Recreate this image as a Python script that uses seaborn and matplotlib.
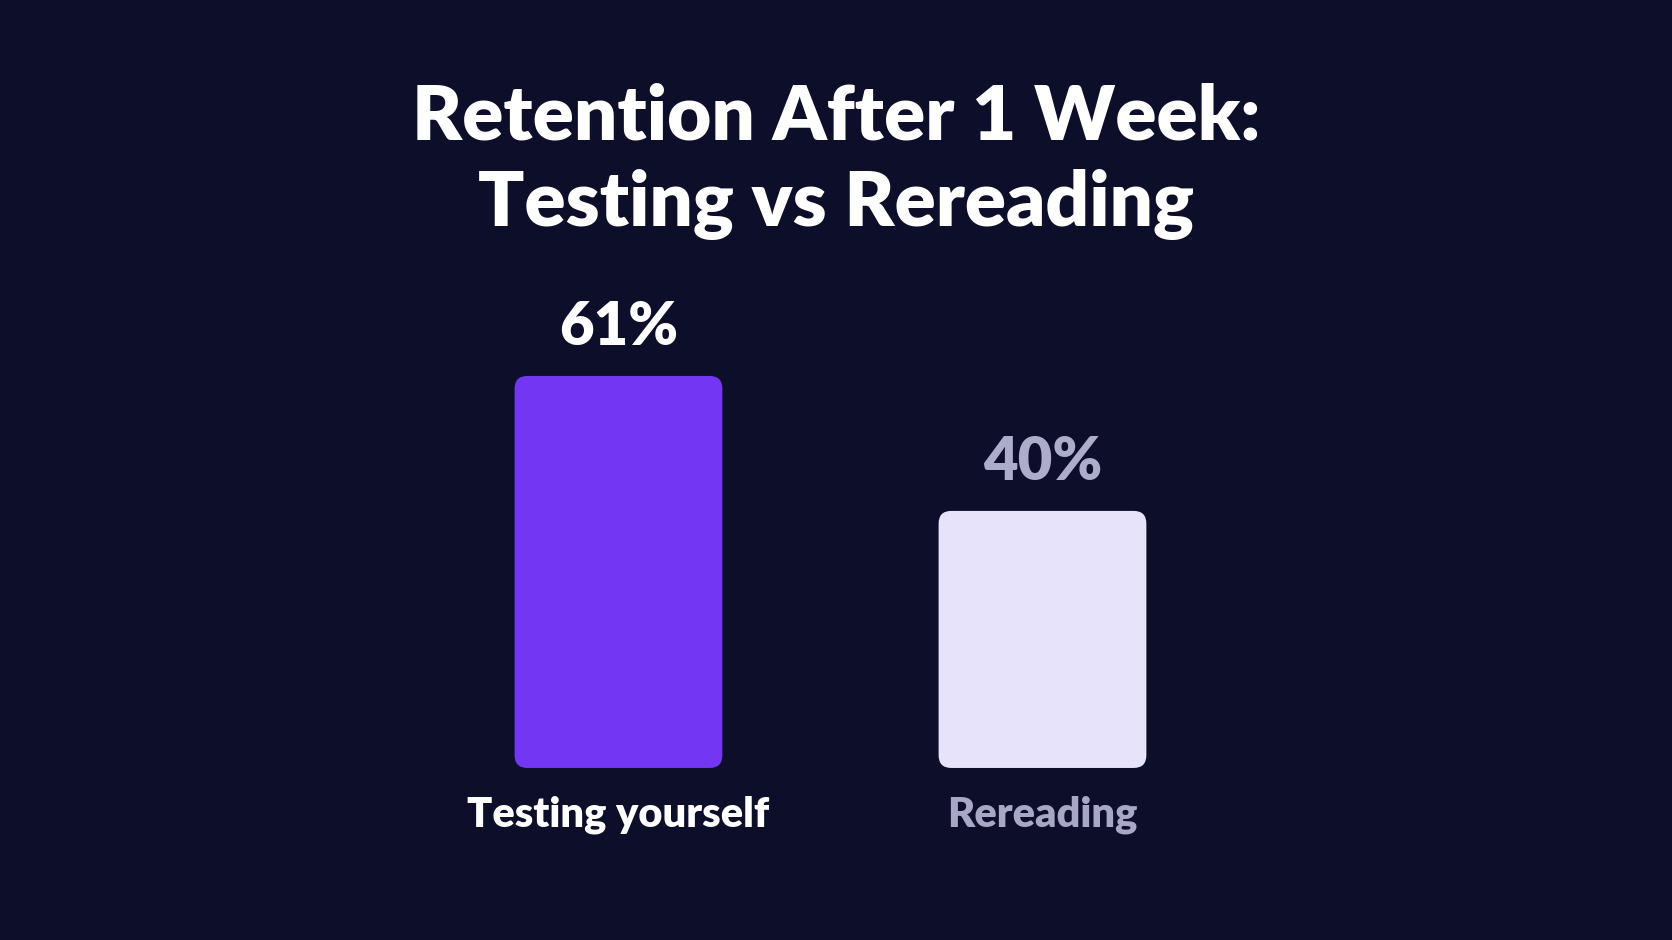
import matplotlib
matplotlib.use("Agg")
import matplotlib.pyplot as plt
from matplotlib.patches import FancyBboxPatch
import seaborn as sns
import pandas as pd

# chart data
categories = ["Testing yourself", "Rereading"]
retention = [61, 40]
value_labels = ["61%", "40%"]
title_lines = ["Retention After 1 Week:", "Testing vs Rereading"]

bg = "#0d0f2a"
bar_colors = ["#7337f3", "#e6e3fa"]
value_colors = ["#ffffff", "#aeaccb"]
cat_colors = ["#ffffff", "#a9a7c6"]

sns.set_theme(style="white")
plt.rcParams["font.family"] = ["Lato", "DejaVu Sans"]

df = pd.DataFrame({"method": categories, "retention": retention})

fig = plt.figure(figsize=(16.72, 9.4), dpi=100, facecolor=bg)
ax = fig.add_axes([0, 0, 1, 1])
ax.set_facecolor(bg)

sns.barplot(data=df, x="method", y="retention", hue="method",
            palette=bar_colors, width=0.49, legend=False, ax=ax)

# scales: centres 424 px apart, 61% -> ~392 px tall, baseline at y=768
ax.set_xlim(-1.4587, 2.4847)
ax.set_ylim(-26.77, 119.5)
ax.axis("off")

# swap plain bars for rounded ones
for patch, color in zip(list(ax.patches), bar_colors):
    x, y = patch.get_x(), patch.get_y()
    w, h = patch.get_width(), patch.get_height()
    patch.remove()
    rounded = FancyBboxPatch((x, y), w, h,
                             boxstyle="round,pad=0,rounding_size=0.03",
                             mutation_aspect=66, facecolor=color,
                             edgecolor="none")
    ax.add_patch(rounded)

for i, (val, lab) in enumerate(zip(retention, value_labels)):
    ax.annotate(lab, (i, val), xytext=(0, 22), textcoords="offset points",
                ha="center", va="baseline", fontsize=43, fontweight="heavy",
                color=value_colors[i])
    ax.annotate(categories[i], (i, 0), xytext=(0, -42),
                textcoords="offset points", ha="center", va="baseline",
                fontsize=30, fontweight="heavy", color=cat_colors[i])

fig.text(0.5, 1 - 139 / 940, title_lines[0], ha="center", va="baseline",
         fontsize=55, fontweight="heavy", color="white")
fig.text(0.5, 1 - 226 / 940, title_lines[1], ha="center", va="baseline",
         fontsize=55, fontweight="heavy", color="white")

fig.savefig("out.png", dpi=100, facecolor=bg)
